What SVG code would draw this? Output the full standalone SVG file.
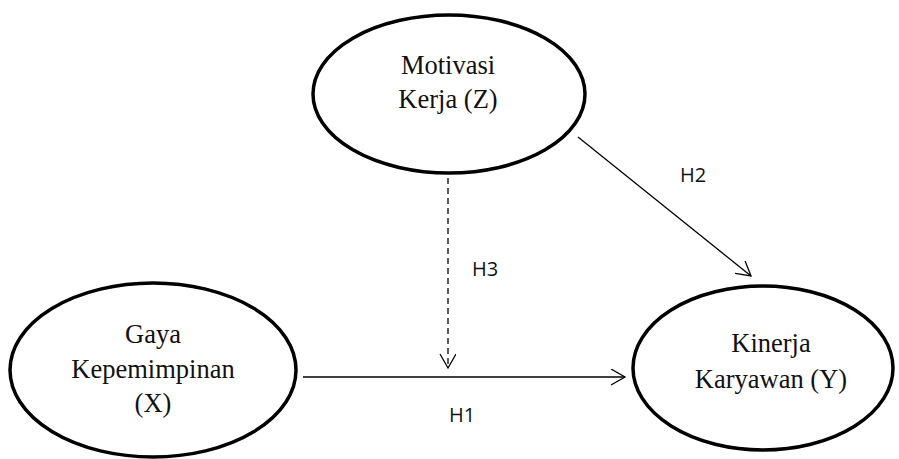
<svg xmlns="http://www.w3.org/2000/svg" width="899" height="459" viewBox="0 0 899 459">
<style>
.node{fill:#fff;stroke:#000;stroke-width:3.5}
.lbl{font-family:"Liberation Serif","Times New Roman",serif;font-size:26.5px;fill:#111;text-anchor:middle}
.h{font-family:"Open Sans","Liberation Sans",sans-serif;font-size:20px;fill:#111}
.edge{stroke:#000;stroke-width:1.3;fill:none}
.dash{stroke-dasharray:6 4}
</style>
<defs>
<marker id="arr" markerWidth="20" markerHeight="20" refX="15" refY="8" orient="auto" markerUnits="userSpaceOnUse">
<path d="M1,0 L15,8 L1,16" fill="none" stroke="#000" stroke-width="1.3"/>
</marker>
</defs>
<rect width="899" height="459" fill="#fff"/>
<g id="connectors">
<line class="edge" x1="303" y1="377" x2="625" y2="377" marker-end="url(#arr)"/>
<line class="edge dash" x1="448" y1="178" x2="448" y2="368" marker-end="url(#arr)"/>
<line class="edge" x1="578" y1="137" x2="751" y2="276" marker-end="url(#arr)"/>
<text class="h" x="449" y="422">H1</text>
<text class="h" x="680" y="182">H2</text>
<text class="h" x="472" y="276">H3</text>
</g>
<g id="nodeZ">
<ellipse class="node" cx="449" cy="94" rx="136" ry="79"/>
<text class="lbl" x="448" y="74">Motivasi</text>
<text class="lbl" x="448" y="108">Kerja (Z)</text>
</g>
<g id="nodeX">
<ellipse class="node" cx="153" cy="370" rx="143" ry="87"/>
<text class="lbl" x="153" y="343">Gaya</text>
<text class="lbl" x="153" y="378">Kepemimpinan</text>
<text class="lbl" x="153" y="412">(X)</text>
</g>
<g id="nodeY">
<ellipse class="node" cx="763" cy="368" rx="130" ry="82"/>
<text class="lbl" x="771" y="352">Kinerja</text>
<text class="lbl" x="771" y="388">Karyawan (Y)</text>
</g>
</svg>
